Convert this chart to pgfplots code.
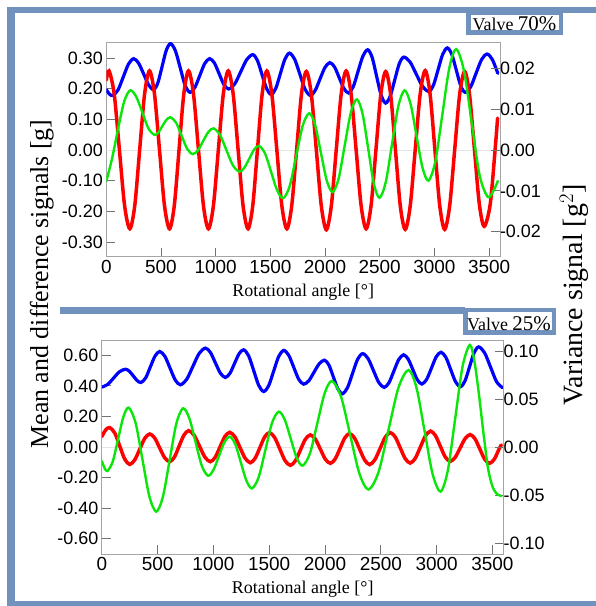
\documentclass[border=0pt]{standalone}
\usepackage{pgfplots}
\pgfplotsset{compat=1.18}
\usepackage{fontspec}
\setmainfont{Liberation Serif}
\newfontfamily\arial{Liberation Sans}

\definecolor{frameblue}{RGB}{114,146,190}
\definecolor{axgray}{RGB}{165,165,165}
\definecolor{zerogray}{RGB}{228,228,228}
\definecolor{cblue}{RGB}{0,0,255}
\definecolor{cred}{RGB}{255,0,0}
\definecolor{cgreen}{RGB}{10,230,10}

\pgfplotsset{
  panel/.style={
    scale only axis, anchor=south west,
    xmin=0, xmax=3600,
    axis line style={draw=axgray, line width=1bp},
    every tick/.style={draw=axgray!70!black, line width=0.9bp},
    major tick length=9bp, tick align=inside,
    /pgf/number format/assume math mode=true,
    scaled ticks=false,
    yticklabel style={font=\arial\fontsize{18}{18}\selectfont, /pgf/number format/fixed, /pgf/number format/fixed zerofill, /pgf/number format/precision=2},
    xticklabel style={font=\arial\fontsize{19}{19}\selectfont, /pgf/number format/1000 sep={}},
    xlabel style={font=\fontsize{18}{18}\selectfont, at={(axis description cs:0.5,0)}, anchor=base, yshift=-39.5bp},
  },
  meanline/.style={cblue, line width=3.2bp, smooth, line cap=round},
  diffline/.style={cred, line width=3.5bp, smooth, line cap=round},
  varline/.style={cgreen, line width=2.4bp, smooth, line cap=round},
  zeroline/.style={zerogray, line width=0.8bp, forget plot},
}

\begin{document}
\begin{tikzpicture}
\useasboundingbox (0,0) rectangle (596bp,606bp);

% ---------------- Valve 70% : mean and difference ----------------
\begin{axis}[panel, at={(106.3bp,349bp)}, width=393.7bp, height=214bp,
  ymin=-0.349, ymax=0.349, ytick={-0.3,-0.2,-0.1,0,0.1,0.2,0.3},
  xtick={0,500,...,3500}, ytick pos=left, xtick pos=bottom,
  xlabel={Rotational angle [°]}]
\addplot[zeroline] coordinates {(0,0) (3600,0)};
\addplot[meanline] coordinates {
(0,0.197)(30,0.182)(60,0.178)(107.5,0.196)(155,0.238)(202.5,0.280)(250,0.298)(295.75,0.283)(341.5,0.248)(387.25,0.212)(433,0.197)(471.5,0.219)(510,0.272)(548.5,0.325)(587,0.347)(631.5,0.324)(676,0.268)(720.5,0.211)(765,0.188)(810,0.204)(855,0.243)(900,0.282)(945,0.298)(988.25,0.284)(1031.5,0.249)(1074.75,0.214)(1118,0.199)(1173.5,0.215)(1229,0.255)(1284.5,0.295)(1340,0.311)(1382,0.292)(1424,0.246)(1466,0.200)(1508,0.181)(1549.75,0.201)(1591.5,0.249)(1633.25,0.296)(1675,0.316)(1722.5,0.296)(1770,0.247)(1817.5,0.198)(1865,0.178)(1909.75,0.194)(1954.5,0.232)(1999.25,0.269)(2044,0.285)(2086.75,0.271)(2129.5,0.236)(2172.25,0.201)(2215,0.186)(2258.75,0.207)(2302.5,0.257)(2346.25,0.306)(2390,0.327)(2431,0.302)(2472,0.240)(2513,0.179)(2554,0.153)(2595.5,0.175)(2637,0.228)(2678.5,0.281)(2720,0.303)(2777.5,0.287)(2835,0.247)(2892.5,0.207)(2950,0.191)(2992,0.212)(3034,0.262)(3076,0.312)(3118,0.333)(3159,0.312)(3200,0.261)(3241,0.209)(3282,0.188)(3332,0.206)(3382,0.251)(3432,0.295)(3482,0.313)(3530,0.295)(3580,0.250)};
\addplot[diffline] coordinates {
(0,0.228)(25,0.258)(72.5,0.182)(120,0)(167.5,-0.182)(215,-0.257)(260,-0.182)(305,0)(350,0.182)(395,0.258)(440.75,0.182)(486.5,0)(532.25,-0.182)(578,-0.257)(621.5,-0.182)(665,0)(708.5,0.182)(752,0.258)(797.5,0.182)(843,0)(888.5,-0.182)(934,-0.257)(979.25,-0.182)(1024.5,0)(1069.75,0.182)(1115,0.258)(1160.25,0.182)(1205.5,0)(1250.75,-0.182)(1296,-0.257)(1339,-0.182)(1382,0)(1425,0.182)(1468,0.258)(1513.75,0.182)(1559.5,0)(1605.25,-0.182)(1651,-0.257)(1695.5,-0.182)(1740,0)(1784.5,0.182)(1829,0.256)(1874.75,0.182)(1920.5,0)(1966.25,-0.183)(2012,-0.260)(2057.25,-0.183)(2102.5,0)(2147.75,0.182)(2193,0.258)(2238.75,0.182)(2284.5,0)(2330.25,-0.182)(2376,-0.257)(2420.75,-0.182)(2465.5,0)(2510.25,0.182)(2555,0.256)(2599.5,0.182)(2644,0)(2688.5,-0.183)(2733,-0.259)(2778.75,-0.183)(2824.5,0)(2870.25,0.183)(2916,0.259)(2960.5,0.183)(3005,0)(3049.5,-0.183)(3094,-0.259)(3139.75,-0.182)(3185.5,0)(3231.25,0.182)(3277,0.256)(3321.5,0.180)(3366,0.003)(3410.5,-0.175)(3455,-0.249)(3510,-0.178)(3555,0)(3578,0.104)};
\end{axis}

% ---------------- Valve 70% : variance ----------------
\begin{axis}[panel, at={(106.3bp,349bp)}, width=393.7bp, height=214bp,
  ymin=-0.0262, ymax=0.0262, ytick={-0.02,-0.01,0,0.01,0.02},
  axis x line=none, axis y line*=right, yticklabel style={xshift=-3.5bp}]
\addplot[varline] coordinates {
(0,-0.0077)(55,-0.0018)(110,0.0055)(165,0.0120)(219,0.0146)(274.25,0.0130)(329.5,0.0092)(384.75,0.0053)(440,0.0037)(476.75,0.0043)(513.5,0.0059)(550.25,0.0074)(587,0.0080)(637.75,0.0067)(688.5,0.0035)(739.25,0.0003)(790,-0.0010)(837.75,-0.0001)(885.5,0.0022)(933.25,0.0044)(981,0.0053)(1039.5,0.0037)(1098,0.0000)(1156.5,-0.0037)(1215,-0.0053)(1260.5,-0.0044)(1306,-0.0022)(1351.5,0.0001)(1397,0.0010)(1452.25,-0.0009)(1507.5,-0.0054)(1562.75,-0.0099)(1618,-0.0118)(1677.5,-0.0088)(1737,-0.0014)(1796.5,0.0060)(1856,0.0090)(1909,0.0062)(1962.5,-0.0007)(2016,-0.0075)(2069,-0.0103)(2124.5,-0.0070)(2180,0.0011)(2235.5,0.0091)(2291,0.0124)(2343,0.0089)(2394.5,0.0004)(2446,-0.0082)(2498,-0.0117)(2555,-0.0079)(2612.5,0.0014)(2670,0.0107)(2727,0.0146)(2782,0.0113)(2836.5,0.0035)(2891,-0.0043)(2946,-0.0075)(3009,-0.0028)(3072.5,0.0086)(3136,0.0200)(3199,0.0247)(3270.5,0.0194)(3342,0.0066)(3413.5,-0.0062)(3488,-0.0115)(3540,-0.0100)(3580,-0.0076)};
\end{axis}

% ---------------- Valve 25% : mean and difference ----------------
\begin{axis}[panel, at={(101.8bp,52bp)}, width=401.8bp, height=214bp,
  ymin=-0.70, ymax=0.70, ytick={-0.6,-0.4,-0.2,0,0.2,0.4,0.6},
  xtick={0,500,...,3500}, ytick pos=left, xtick pos=bottom,
  xlabel={Rotational angle [°]}]
\addplot[zeroline] coordinates {(0,0) (3600,0)};
\addplot[meanline] coordinates {
(0,0.392)(52.75,0.409)(105.5,0.451)(158.25,0.492)(211,0.509)(246,0.496)(281,0.466)(316,0.435)(351,0.422)(393,0.452)(435,0.524)(477,0.595)(519,0.625)(565.25,0.593)(611.5,0.516)(657.75,0.439)(704,0.407)(760,0.442)(816,0.527)(872,0.612)(928,0.647)(972.75,0.619)(1017.5,0.551)(1062.25,0.483)(1107,0.455)(1148,0.482)(1189,0.546)(1230,0.610)(1271,0.636)(1316,0.596)(1361,0.500)(1406,0.403)(1451,0.363)(1495.75,0.402)(1540.5,0.498)(1585.25,0.593)(1630,0.632)(1674.75,0.600)(1719.5,0.522)(1764.25,0.443)(1809,0.411)(1855.5,0.434)(1902,0.490)(1948.5,0.545)(1995,0.568)(2035,0.536)(2075,0.458)(2115,0.380)(2155,0.348)(2200.5,0.387)(2246,0.480)(2291.5,0.573)(2337,0.611)(2385.25,0.579)(2433.5,0.501)(2481.75,0.422)(2530,0.390)(2573.5,0.421)(2617,0.497)(2660.5,0.572)(2704,0.603)(2745,0.575)(2786,0.508)(2827,0.440)(2868,0.412)(2910.75,0.443)(2953.5,0.516)(2996.25,0.590)(3039,0.620)(3082.5,0.587)(3126,0.507)(3169.5,0.427)(3213,0.394)(3254,0.432)(3295,0.525)(3336,0.617)(3377,0.655)(3430,0.616)(3483.5,0.522)(3537,0.427)(3590,0.388)};
\addplot[diffline] coordinates {
(0,0.068)(35,0.112)(71,0.127)(115.75,0.092)(160.5,0.007)(205.25,-0.079)(250,-0.114)(294.75,-0.085)(339.5,-0.015)(384.25,0.056)(429,0.085)(473.75,0.059)(518.5,-0.006)(563.25,-0.070)(608,-0.096)(650.5,-0.066)(693,0.006)(735.5,0.077)(778,0.107)(826.5,0.077)(875,0.006)(923.5,-0.066)(972,-0.096)(1015.5,-0.068)(1059,0)(1102.5,0.068)(1146,0.096)(1192.25,0.067)(1238.5,-0.004)(1284.75,-0.074)(1331,-0.103)(1373.5,-0.074)(1416,-0.005)(1458.5,0.065)(1501,0.094)(1548,0.063)(1595,-0.013)(1642,-0.089)(1689,-0.120)(1733.75,-0.091)(1778.5,-0.021)(1823.25,0.050)(1868,0.079)(1913,0.052)(1958,-0.014)(2003,-0.080)(2048,-0.107)(2091,-0.078)(2134,-0.010)(2177,0.059)(2220,0.088)(2265,0.058)(2310,-0.014)(2355,-0.085)(2400,-0.115)(2446.25,-0.084)(2492.5,-0.011)(2538.75,0.063)(2585,0.094)(2629.5,0.065)(2674,-0.006)(2718.5,-0.076)(2763,-0.105)(2808.5,-0.074)(2854,-0.001)(2899.5,0.073)(2945,0.104)(2989,0.075)(3033,0.005)(3077,-0.065)(3121,-0.094)(3165.75,-0.068)(3210.5,-0.007)(3255.25,0.055)(3300,0.081)(3343.5,0.054)(3387,-0.013)(3430.5,-0.080)(3474,-0.107)(3518,-0.078)(3562,-0.009)(3580,0.014)};
\end{axis}

% ---------------- Valve 25% : variance ----------------
\begin{axis}[panel, at={(101.8bp,52bp)}, width=401.8bp, height=214bp,
  ymin=-0.1115, ymax=0.1115, ytick={-0.1,-0.05,0,0.05,0.1},
  axis x line=none, axis y line*=right, yticklabel style={xshift=-3.5bp}]
\addplot[varline] coordinates {
(0,-0.0146)(25,-0.0220)(50,-0.0250)(97.75,-0.0153)(145.5,0.0080)(193.25,0.0313)(241,0.0410)(302.75,0.0251)(364.5,-0.0132)(426.25,-0.0515)(488,-0.0674)(548,-0.0516)(608,-0.0136)(668,0.0245)(728,0.0403)(784,0.0300)(840,0.0052)(896,-0.0196)(952,-0.0299)(1000.5,-0.0239)(1049,-0.0096)(1097.5,0.0048)(1146,0.0108)(1196,0.0029)(1246,-0.0162)(1296,-0.0352)(1346,-0.0431)(1405.75,-0.0314)(1465.5,-0.0032)(1525.25,0.0251)(1585,0.0368)(1638.75,0.0286)(1692.5,0.0087)(1746.25,-0.0112)(1800,-0.0194)(1865.5,-0.0065)(1931,0.0247)(1996.5,0.0559)(2062,0.0688)(2144,0.0522)(2226,0.0123)(2308,-0.0277)(2390,-0.0443)(2479.5,-0.0261)(2569,0.0180)(2658.5,0.0620)(2748,0.0802)(2819.75,0.0616)(2891.5,0.0169)(2963.25,-0.0279)(3035,-0.0465)(3100.75,-0.0241)(3166.5,0.0299)(3232.25,0.0839)(3298,0.1063)(3340,0.0880)(3380,0.0540)(3420,0.0140)(3460,-0.0220)(3500,-0.0410)(3540,-0.0490)(3580,-0.0510)};
\end{axis}

% ---------------- frame, separators, captions ----------------
\begin{scope}[x=1bp, y=1bp]
  \fill[frameblue] (7,0) rectangle (15,599);
  \fill[frameblue] (7,593) rectangle (596,599);
  \fill[frameblue] (7,0) rectangle (596,5);
  \fill[frameblue] (60,292) rectangle (465,298.5);
  \draw[frameblue, line width=4.5bp, fill=white] (468.25,573.25) rectangle (560.75,592.75);
  \draw[frameblue, line width=4.5bp, fill=white] (465.25,273.25) rectangle (553.75,295.75);
  \node[anchor=base, inner sep=0pt] at (514.5,575.5)
    {\fontsize{18}{18}\selectfont Valve \fontsize{21}{21}\selectfont 70\%};
  \node[anchor=base, inner sep=0pt] at (509,275.5)
    {\fontsize{18}{18}\selectfont Valve \fontsize{21}{21}\selectfont 25\%};
  \node[rotate=90, anchor=base, inner sep=0pt] at (48,322)
    {\fontsize{26}{26}\selectfont Mean and difference signals [g]};
  \node[rotate=90, anchor=base, inner sep=0pt] at (582,311)
    {\fontsize{28}{28}\selectfont Variance signal [g$^{2}$]};
\end{scope}
\end{tikzpicture}
\end{document}
